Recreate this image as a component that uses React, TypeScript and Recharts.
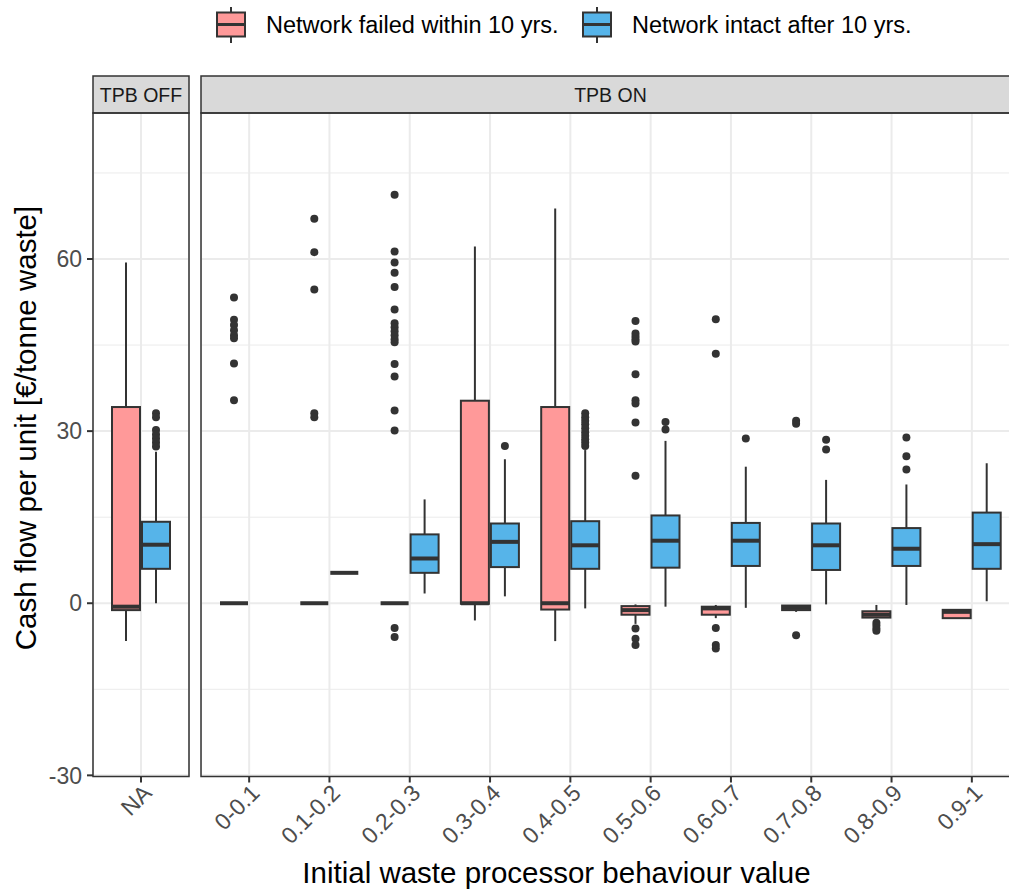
import React from 'react';
import { ComposedChart, Bar, XAxis, YAxis, CartesianGrid } from 'recharts';

// categories per facet
const OFF_CATEGORIES = ['NA'];
const ON_CATEGORIES = ['0-0.1', '0.1-0.2', '0.2-0.3', '0.3-0.4', '0.4-0.5', '0.5-0.6', '0.6-0.7', '0.7-0.8', '0.8-0.9', '0.9-1'];

// box stats: [lower whisker, q1, median, q3, upper whisker]
type Box = [number, number, number, number, number] | null;

const FAILED_OFF: Box[] = [[-6.6, -1.2, -0.6, 34.2, 59.4]];
const FAILED_OFF_OUTLIERS: number[][] = [[]];
const INTACT_OFF: Box[] = [[0, 6.0, 10.2, 14.2, 26.4]];
const INTACT_OFF_OUTLIERS: number[][] = [[33.1, 32.4, 30.2, 29.4, 28.7, 28.0, 27.3]];

const FAILED_ON: Box[] = [
  [0, 0, 0, 0, 0],
  [0, 0, 0, 0, 0],
  [0, 0, 0, 0, 0],
  [-3.0, -0.1, 0, 35.3, 62.2],
  [-6.6, -1.1, 0, 34.2, 68.8],
  [-3.6, -2.0, -1.2, -0.5, -0.2],
  [-2.6, -2.0, -0.9, -0.6, -0.3],
  [-1.5, -1.2, -0.8, -0.4, -0.4],
  [-2.6, -2.5, -2.0, -1.4, -0.3],
  [-2.6, -2.6, -1.5, -1.15, -1.15],
];
const FAILED_ON_OUTLIERS: number[][] = [
  [53.3, 49.4, 48.5, 47.6, 46.7, 46.2, 41.8, 35.4],
  [67.0, 61.2, 54.7, 33.1, 32.4],
  [71.2, 61.3, 59.4, 57.6, 55.1, 51.2, 48.8, 48.1, 47.4, 46.7, 46.0, 45.5, 41.7, 39.5, 33.6, 30.1, -4.3, -5.9],
  [],
  [],
  [49.2, 47.0, 46.5, 46.0, 45.6, 39.9, 35.4, 34.8, 31.5, 22.2, -4.4, -6.2, -7.3],
  [49.5, 43.5, -4.3, -7.3, -7.9],
  [31.8, 31.3, -5.6],
  [-3.4, -3.9, -4.4, -4.8],
  [],
];
const INTACT_ON: Box[] = [
  null,
  [5.3, 5.3, 5.3, 5.3, 5.3],
  [1.7, 5.3, 7.8, 12.0, 18.1],
  [1.2, 6.3, 10.7, 13.9, 25.1],
  [-0.9, 6.0, 10.1, 14.3, 26.7],
  [-0.6, 6.2, 10.9, 15.3, 28.3],
  [-0.8, 6.5, 10.9, 14.0, 23.8],
  [-0.2, 5.8, 10.1, 13.9, 21.5],
  [-0.3, 6.5, 9.5, 13.1, 20.7],
  [0.35, 6.0, 10.3, 15.8, 24.4],
];
const INTACT_ON_OUTLIERS: number[][] = [
  [],
  [],
  [],
  [27.4],
  [33.1, 32.4, 31.8, 31.2, 30.5, 29.8, 29.2, 28.6, 28.0, 27.4],
  [31.6, 30.3],
  [28.7],
  [28.5, 26.8],
  [28.9, 25.6, 23.3],
  [],
];

const Y_TICKS = [-30, 0, 30, 60];
const Y_MINOR = [-15, 15, 45, 75];
const Y_DOMAIN: [number, number] = [-30.2, 85.45];

const SERIES = [
  { key: 'failed', label: 'Network failed within 10 yrs.', fill: '#FF9999' },
  { key: 'intact', label: 'Network intact after 10 yrs.', fill: '#56B4E9' },
];

const FONT = '"Liberation Sans", Arial, sans-serif';
const INK = '#333333';

function buildRows(cats: string[], failed: Box[], failedOut: number[][], intact: Box[], intactOut: number[][]) {
  return cats.map((c, i) => ({
    cat: c,
    failed: failed[i],
    failedOut: failedOut[i],
    intact: intact[i],
    intactOut: intactOut[i],
  }));
}

const offRows = buildRows(OFF_CATEGORIES, FAILED_OFF, FAILED_OFF_OUTLIERS, INTACT_OFF, INTACT_OFF_OUTLIERS);
const onRows = buildRows(ON_CATEGORIES, FAILED_ON, FAILED_ON_OUTLIERS, INTACT_ON, INTACT_ON_OUTLIERS);

// bar spans the whole y domain, so its rect gives us the axis scale
const boxShape = (key: string, fill: string) => (props: any) => {
  const { x, y, width, height, payload } = props;
  const s: Box = payload[key];
  if (!s) return <g />;
  const outs: number[] = payload[key + 'Out'] || [];
  const py = (v: number) => y + (height * (Y_DOMAIN[1] - v)) / (Y_DOMAIN[1] - Y_DOMAIN[0]);
  const [lo, q1, med, q3, hi] = s;
  const cx = x + width / 2;
  return (
    <g>
      <line x1={cx} x2={cx} y1={py(hi)} y2={py(q3)} stroke={INK} strokeWidth={2} />
      <line x1={cx} x2={cx} y1={py(q1)} y2={py(lo)} stroke={INK} strokeWidth={2} />
      <rect x={x} y={py(q3)} width={width} height={Math.max(0, py(q1) - py(q3))} fill={fill} stroke={INK} strokeWidth={2} />
      <line x1={x} x2={x + width} y1={py(med)} y2={py(med)} stroke={INK} strokeWidth={4} />
      {outs.map((v, i) => (
        <circle key={i} cx={cx} cy={py(v)} r={4} fill={INK} />
      ))}
    </g>
  );
};

const XTick = (props: any) => {
  const { x, y, payload } = props;
  const ax = x + 12;
  const ay = y + 10;
  return (
    <text x={ax} y={ay} transform={`rotate(-45 ${ax} ${ay})`} textAnchor="end" fill="#4D4D4D" fontSize={23} fontFamily={FONT}>
      {payload.value}
    </text>
  );
};

function Panel({ rows, width, left, showY }: { rows: any[]; width: number; left: number; showY: boolean }) {
  return (
    <div style={{ position: 'absolute', left, top: 0 }}>
      <ComposedChart
        width={width}
        height={892}
        data={rows}
        margin={{ top: 113, right: showY ? 6 : 0, bottom: 0, left: 0 }}
        barSize={28}
        barGap={2}
      >
        <CartesianGrid horizontal={false} stroke="#EBEBEB" strokeWidth={2} />
        <CartesianGrid vertical={false} horizontalValues={Y_MINOR} stroke="#EBEBEB" strokeWidth={1} />
        <CartesianGrid vertical={false} horizontalValues={Y_TICKS} stroke="#EBEBEB" strokeWidth={2} />
        <XAxis
          dataKey="cat"
          height={115.5}
          padding={{ left: 8, right: 8 }}
          axisLine={false}
          tickLine={{ stroke: INK, strokeWidth: 2 }}
          tickSize={6}
          tickMargin={2}
          interval={0}
          tick={<XTick />}
        />
        <YAxis
          type="number"
          domain={Y_DOMAIN}
          ticks={Y_TICKS}
          allowDataOverflow
          hide={!showY}
          width={93}
          axisLine={false}
          tickLine={{ stroke: INK, strokeWidth: 2 }}
          tickSize={6}
          tickMargin={5}
          tick={{ fill: '#4D4D4D', fontSize: 23, fontFamily: FONT }}
        />
        {SERIES.map((s) => (
          <Bar
            key={s.key}
            dataKey={(d: any) => (d[s.key] ? [Y_DOMAIN[0], Y_DOMAIN[1]] : null)}
            fill="none"
            shape={boxShape(s.key, s.fill)}
            isAnimationActive={false}
          />
        ))}
      </ComposedChart>
    </div>
  );
}

const LegendKey = ({ x, fill }: { x: number; fill: string }) => (
  <g>
    <line x1={x + 14} x2={x + 14} y1={7} y2={43} stroke={INK} strokeWidth={2} />
    <rect x={x} y={12.5} width={28} height={24} fill={fill} stroke={INK} strokeWidth={2} />
    <line x1={x} x2={x + 28} y1={24.5} y2={24.5} stroke={INK} strokeWidth={3} />
  </g>
);

export default function App() {
  const legendX = [217, 583];
  return (
    <div style={{ position: 'absolute', left: 0, top: 0, width: 1009, height: 892, overflow: 'hidden', background: '#fff' }}>
      <Panel rows={offRows} width={195} left={0} showY />
      <Panel rows={onRows} width={819} left={201} showY={false} />
      <svg width={1009} height={892} style={{ position: 'absolute', left: 0, top: 0, pointerEvents: 'none' }} fontFamily={FONT}>
        {SERIES.map((s, i) => (
          <g key={s.key}>
            <LegendKey x={legendX[i]} fill={s.fill} />
            <text x={legendX[i] + 49} y={33} fontSize={23.5} fill="#000">
              {s.label}
            </text>
          </g>
        ))}
        <rect x={93} y={76} width={96} height={37} fill="#D9D9D9" stroke={INK} strokeWidth={1.5} />
        <text x={141} y={95} textAnchor="middle" dominantBaseline="central" fontSize={19.5} fill="#1A1A1A">TPB OFF</text>
        <rect x={201} y={76} width={819} height={37} fill="#D9D9D9" stroke={INK} strokeWidth={1.5} />
        <text x={610.5} y={95} textAnchor="middle" dominantBaseline="central" fontSize={19.5} fill="#1A1A1A">TPB ON</text>
        <rect x={93} y={113} width={96} height={663.5} fill="none" stroke={INK} strokeWidth={1.5} />
        <rect x={201} y={113} width={819} height={663.5} fill="none" stroke={INK} strokeWidth={1.5} />
        <text x={36} y={428} transform="rotate(-90 36 428)" textAnchor="middle" fontSize={29.5} fill="#000">
          Cash flow per unit [€/tonne waste]
        </text>
        <text x={556.5} y={883} textAnchor="middle" fontSize={29.5} fill="#000">
          Initial waste processor behaviour value
        </text>
      </svg>
    </div>
  );
}
